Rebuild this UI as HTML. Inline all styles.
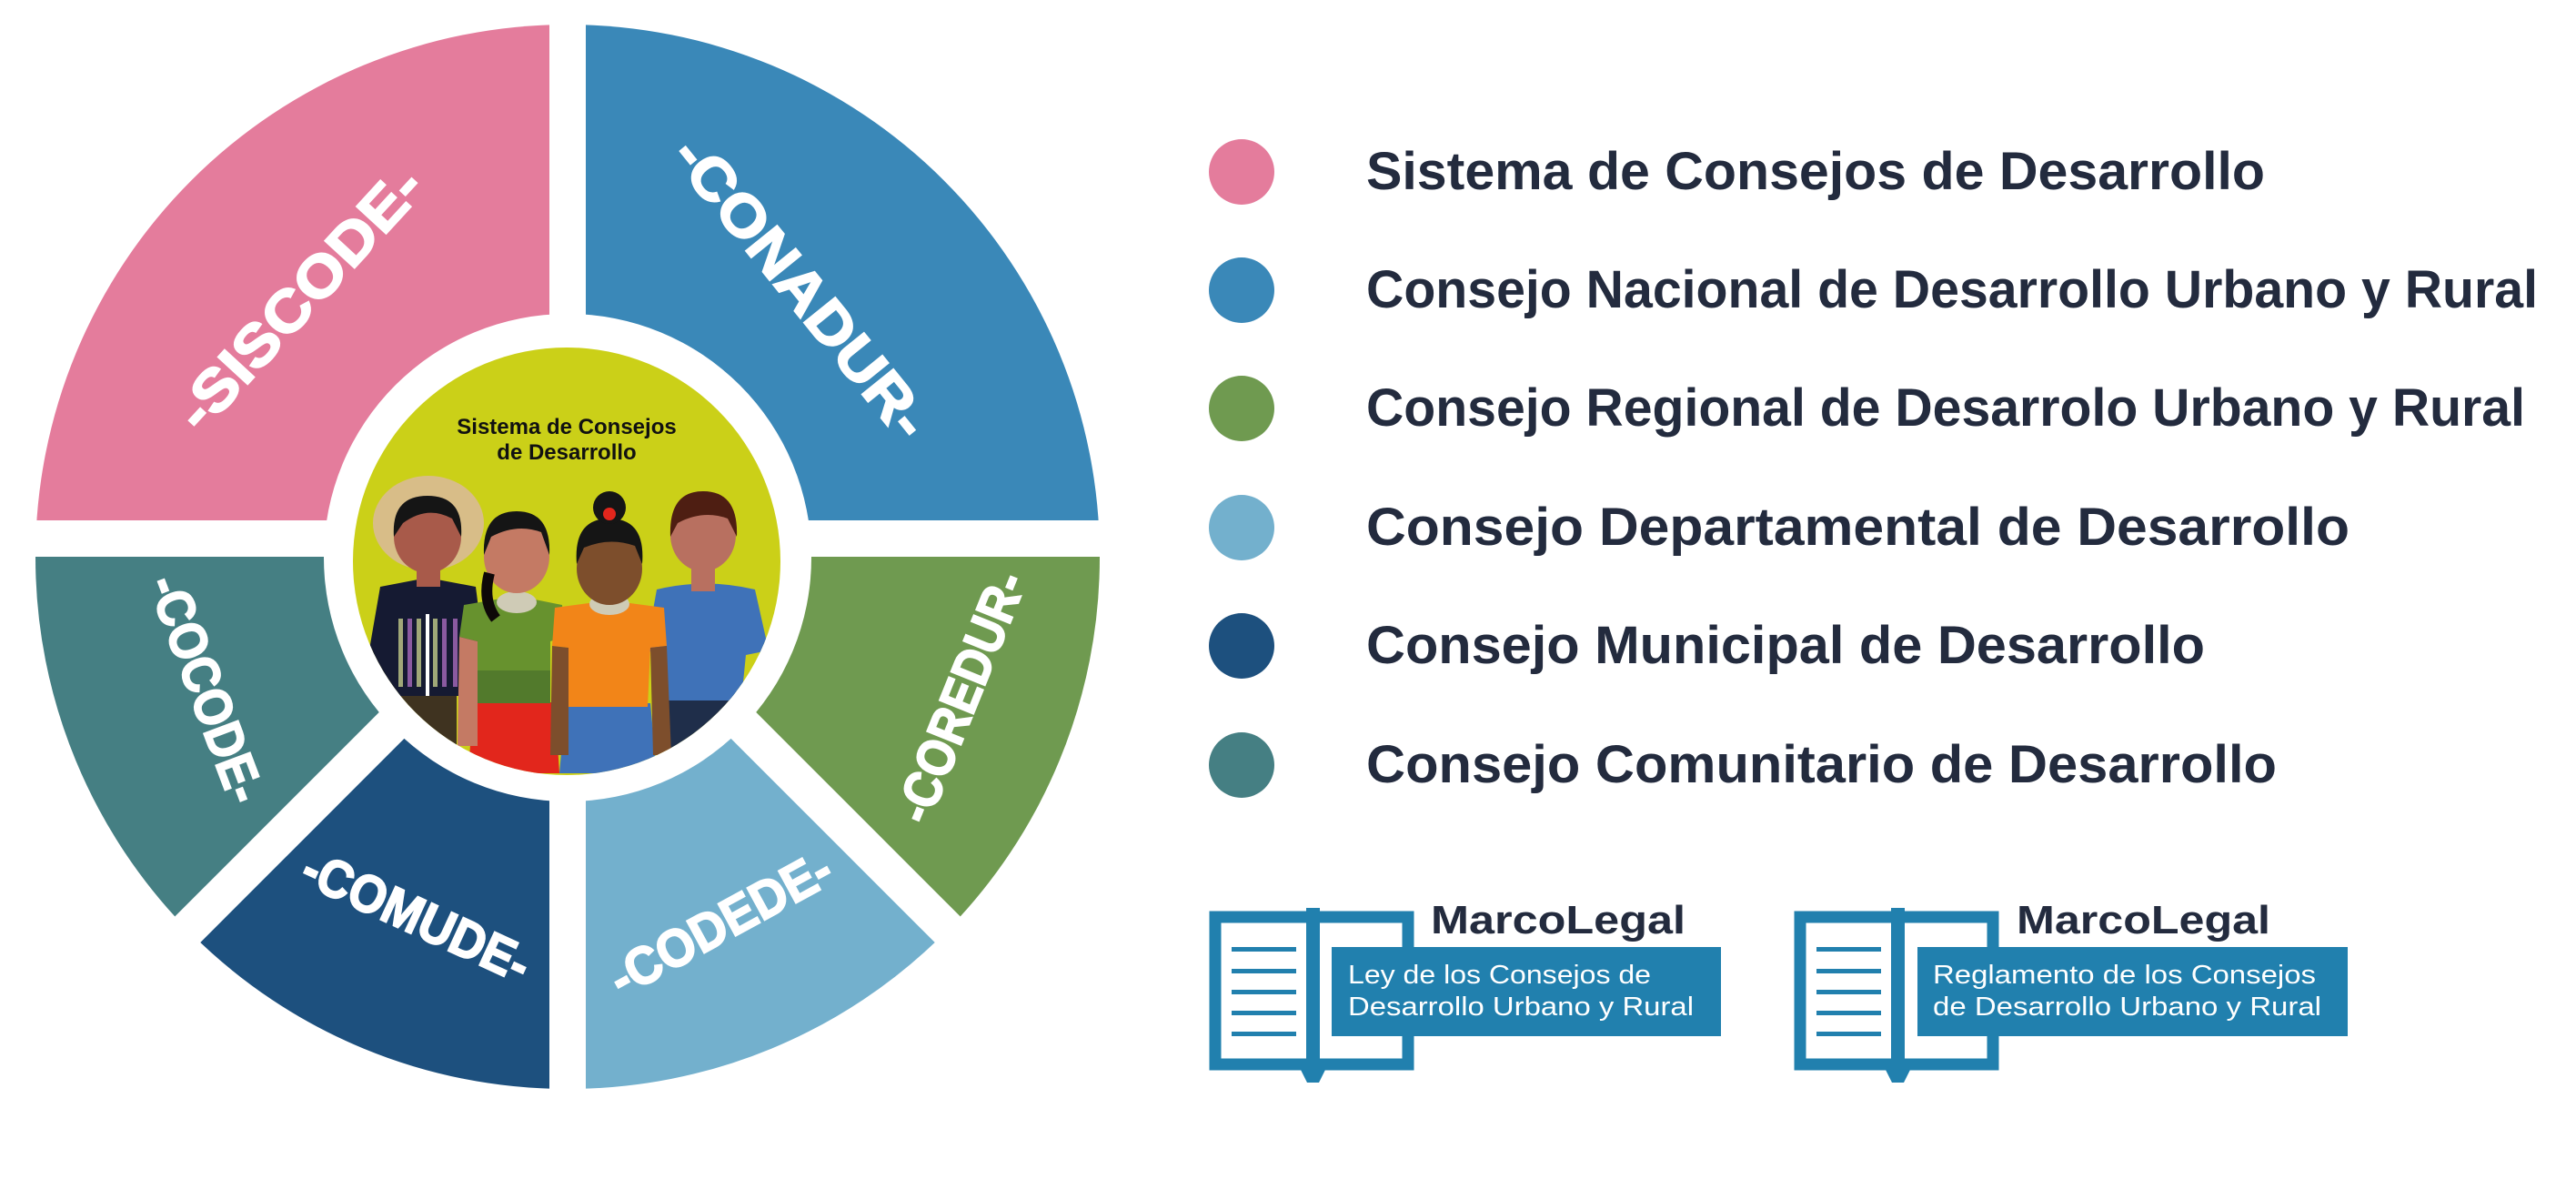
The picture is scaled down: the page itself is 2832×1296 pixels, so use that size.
<!DOCTYPE html>
<html><head><meta charset="utf-8"><style>html,body{margin:0;padding:0;background:#fff}svg{display:block}</style></head>
<body>
<svg width="2832" height="1296" viewBox="0 0 2832 1296" xmlns="http://www.w3.org/2000/svg" font-family="Liberation Sans, sans-serif">
<defs>
<clipPath id="yc"><circle cx="623" cy="617" r="235"/></clipPath>
</defs>
<g>
<path d="M624 612 L624 27 A585 585 0 0 0 39 612 Z" fill="#e47c9c"/>
<path d="M624 612 L624 27 A585 585 0 0 1 1209 612 Z" fill="#3a88b8"/>
<path d="M624 612 L1209 612 A585 585 0 0 1 1038 1026 Z" fill="#6f9a50"/>
<path d="M624 612 L1038 1026 A585 585 0 0 1 624 1197 Z" fill="#73b0cd"/>
<path d="M624 612 L624 1197 A585 585 0 0 1 210 1026 Z" fill="#1d507e"/>
<path d="M624 612 L210 1026 A585 585 0 0 1 39 612 Z" fill="#457f83"/>
</g>
<g stroke="#fff" stroke-width="40">
<line x1="624" y1="0" x2="624" y2="1296"/>
<line x1="0" y1="592" x2="1250" y2="592"/>
<line x1="624" y1="604" x2="150" y2="1078"/>
<line x1="624" y1="604" x2="1098" y2="1078"/>
</g>
<circle cx="624" cy="613" r="268" fill="#fff"/>
<circle cx="623" cy="617" r="235" fill="#cbd018"/>
<g fill="#fff" font-weight="bold" font-size="64" text-anchor="middle" stroke="#fff" stroke-width="2">
<text transform="translate(329,328) rotate(-47.4)" y="22" textLength="367" lengthAdjust="spacingAndGlyphs">-SISCODE-</text>
<text transform="translate(881,316) rotate(51)" y="22" textLength="406" lengthAdjust="spacingAndGlyphs">-CONADUR-</text>
<text transform="translate(1056,766) rotate(-68)" y="20" font-size="58" textLength="291" lengthAdjust="spacingAndGlyphs">-COREDUR-</text>
<text transform="translate(792,1015) rotate(-28.6)" y="20" font-size="58" textLength="269" lengthAdjust="spacingAndGlyphs">-CODEDE-</text>
<text transform="translate(458,1007) rotate(24.7)" y="20" font-size="58" textLength="269" lengthAdjust="spacingAndGlyphs">-COMUDE-</text>
<text transform="translate(227,757) rotate(69.4)" y="20" font-size="58" textLength="262" lengthAdjust="spacingAndGlyphs">-COCODE-</text>
</g>
<g font-weight="bold" font-size="24" text-anchor="middle" fill="#111">
<text x="623" y="477">Sistema de Consejos</text>
<text x="623" y="505">de Desarrollo</text>
</g>
<g clip-path="url(#yc)">
<rect x="735" y="760" width="78" height="100" fill="#1f2e4a"/>
<path d="M722 648 Q775 635 830 648 L845 715 L820 720 L815 770 L735 770 L730 720 L710 715 Z" fill="#3f72b8"/>
<rect x="760" y="620" width="26" height="30" fill="#b87060"/>
<ellipse cx="773" cy="588" rx="36" ry="40" fill="#b87060"/>
<path d="M737 590 Q735 540 773 540 Q812 540 810 590 L800 570 Q773 560 745 575 Z" fill="#4e1e12"/>
<ellipse cx="471" cy="575" rx="61" ry="52" fill="#d8bd88"/>
<rect x="440" y="760" width="62" height="70" fill="#3f3320"/>
<path d="M418 645 L470 635 L523 645 L530 700 L523 765 L420 765 L405 720 Z" fill="#151a32"/>
<rect x="468" y="675" width="4" height="90" fill="#fff"/>
<g fill="#8a5aa0"><rect x="448" y="680" width="5" height="75"/><rect x="486" y="680" width="5" height="75"/><rect x="498" y="680" width="5" height="75"/></g>
<g fill="#a0a878"><rect x="438" y="680" width="5" height="75"/><rect x="458" y="680" width="5" height="75"/><rect x="476" y="680" width="5" height="75"/></g>
<rect x="458" y="625" width="26" height="20" fill="#a85a4a"/>
<ellipse cx="470" cy="590" rx="37" ry="40" fill="#a85a4a"/>
<path d="M433 590 Q430 545 470 545 Q510 545 507 590 L497 570 Q470 555 443 575 Z" fill="#151515"/>
<path d="M520 772 L610 772 L615 850 L515 850 Z" fill="#e2261c"/>
<path d="M510 665 L568 655 L618 665 L620 700 L605 705 L605 773 L525 773 L525 705 L505 700 Z" fill="#67922e"/>
<rect x="525" y="737" width="80" height="36" fill="#527a2c"/>
<path d="M505 700 L525 705 L525 820 L503 820 Z" fill="#c47a64"/>
<ellipse cx="568" cy="662" rx="22" ry="12" fill="#cfcbb6"/>
<ellipse cx="568" cy="612" rx="36" ry="40" fill="#c47a64"/>
<path d="M532 610 Q530 562 568 562 Q606 562 604 610 L595 585 Q568 575 540 590 Z" fill="#151515"/>
<path d="M538 630 Q530 660 545 680" stroke="#0e0808" stroke-width="12" fill="none"/>
<path d="M622 773 L715 773 L722 850 L615 850 Z" fill="#3f72b8"/>
<path d="M610 668 L670 660 L730 668 L733 710 L715 712 L712 777 L625 777 L625 712 L607 710 Z" fill="#f28518"/>
<path d="M607 710 L625 712 L625 830 L605 830 Z" fill="#7d4e2c"/>
<path d="M715 712 L733 710 L738 830 L718 830 Z" fill="#7d4e2c"/>
<ellipse cx="670" cy="664" rx="22" ry="12" fill="#cfcbb6"/>
<ellipse cx="670" cy="625" rx="36" ry="40" fill="#7d4e2c"/>
<path d="M634 620 Q630 570 670 570 Q710 570 706 620 L698 600 Q670 590 642 602 Z" fill="#151515"/>
<circle cx="670" cy="558" r="18" fill="#151515"/>
<circle cx="670" cy="565" r="7" fill="#e2261c"/>
</g>
<g font-weight="bold" font-size="58" fill="#232b3e">
<circle cx="1365" cy="189" r="36" fill="#e47c9c"/>
<text x="1502" y="208" textLength="988" lengthAdjust="spacingAndGlyphs">Sistema de Consejos de Desarrollo</text>
<circle cx="1365" cy="319" r="36" fill="#3a88b8"/>
<text x="1502" y="338" textLength="1288" lengthAdjust="spacingAndGlyphs">Consejo Nacional de Desarrollo Urbano y Rural</text>
<circle cx="1365" cy="449" r="36" fill="#6f9a50"/>
<text x="1502" y="468" textLength="1274" lengthAdjust="spacingAndGlyphs">Consejo Regional de Desarrolo Urbano y Rural</text>
<circle cx="1365" cy="580" r="36" fill="#73b0cd"/>
<text x="1502" y="599" textLength="1081" lengthAdjust="spacingAndGlyphs">Consejo Departamental de Desarrollo</text>
<circle cx="1365" cy="710" r="36" fill="#1d507e"/>
<text x="1502" y="729" textLength="922" lengthAdjust="spacingAndGlyphs">Consejo Municipal de Desarrollo</text>
<circle cx="1365" cy="841" r="36" fill="#457f83"/>
<text x="1502" y="860" textLength="1001" lengthAdjust="spacingAndGlyphs">Consejo Comunitario de Desarrollo</text>
</g>
<g>
<rect x="1336" y="1008" width="212" height="162" fill="none" stroke="#2180ae" stroke-width="13"/>
<rect x="1436" y="998" width="15" height="190" fill="#2180ae"/>
<path d="M1430 1176 L1457 1176 L1450 1190 L1437 1190 Z" fill="#2180ae"/>
<g fill="#2180ae"><rect x="1354" y="1041" width="71" height="5"/><rect x="1354" y="1065" width="71" height="5"/><rect x="1354" y="1088" width="71" height="5"/><rect x="1354" y="1111" width="71" height="5"/><rect x="1354" y="1134" width="71" height="5"/></g>
<rect x="1464" y="1041" width="428" height="98" fill="#2180ae"/>
<text x="1482" y="1081" font-size="29" fill="#fff" textLength="333" lengthAdjust="spacingAndGlyphs">Ley de los Consejos de</text>
<text x="1482" y="1116" font-size="29" fill="#fff" textLength="380" lengthAdjust="spacingAndGlyphs">Desarrollo Urbano y Rural</text>
<text x="1573" y="1026" font-size="44" font-weight="bold" fill="#232b3e" textLength="280" lengthAdjust="spacingAndGlyphs">MarcoLegal</text>
</g>
<g>
<rect x="1979" y="1008" width="212" height="162" fill="none" stroke="#2180ae" stroke-width="13"/>
<rect x="2079" y="998" width="15" height="190" fill="#2180ae"/>
<path d="M2073 1176 L2100 1176 L2093 1190 L2080 1190 Z" fill="#2180ae"/>
<g fill="#2180ae"><rect x="1997" y="1041" width="71" height="5"/><rect x="1997" y="1065" width="71" height="5"/><rect x="1997" y="1088" width="71" height="5"/><rect x="1997" y="1111" width="71" height="5"/><rect x="1997" y="1134" width="71" height="5"/></g>
<rect x="2108" y="1041" width="473" height="98" fill="#2180ae"/>
<text x="2125" y="1081" font-size="29" fill="#fff" textLength="421" lengthAdjust="spacingAndGlyphs">Reglamento de los Consejos</text>
<text x="2125" y="1116" font-size="29" fill="#fff" textLength="427" lengthAdjust="spacingAndGlyphs">de Desarrollo Urbano y Rural</text>
<text x="2217" y="1026" font-size="44" font-weight="bold" fill="#232b3e" textLength="279" lengthAdjust="spacingAndGlyphs">MarcoLegal</text>
</g>
</svg>
</body></html>
